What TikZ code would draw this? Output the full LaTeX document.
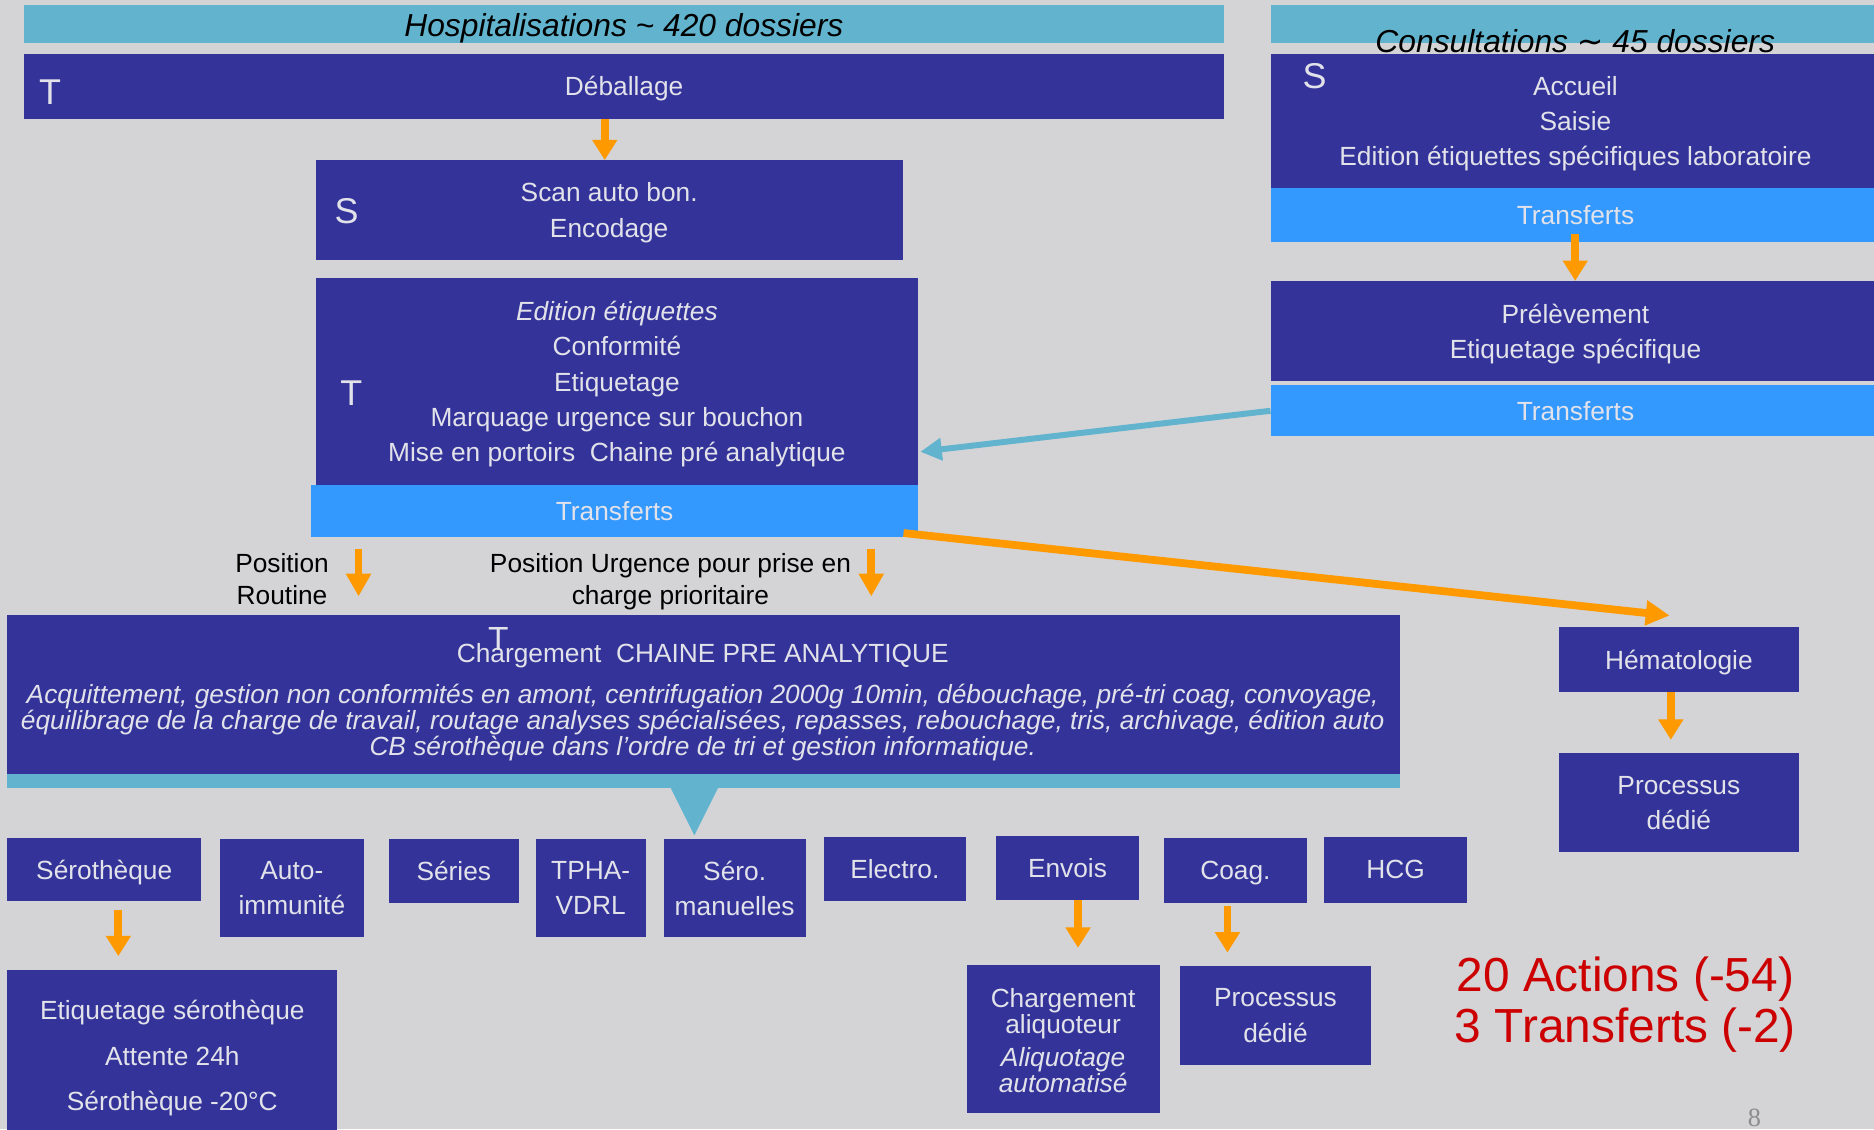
\documentclass[tikz,border=0pt]{standalone}
\usepackage{fontspec}
\setmainfont{Liberation Sans}
\newfontfamily\djv{DejaVu Sans}
\newfontfamily\serifnum{Liberation Serif}
\usetikzlibrary{arrows.meta}
\definecolor{bg}{RGB}{212,212,214}
\definecolor{dblue}{RGB}{51,51,153}
\definecolor{teal2}{RGB}{98,180,206}
\definecolor{bblue}{RGB}{51,153,255}
\definecolor{orng}{RGB}{255,153,0}
\definecolor{ltxt}{RGB}{226,226,234}
\definecolor{redt}{RGB}{204,0,0}
\definecolor{pgnum}{RGB}{140,140,140}
\newcommand\fs{\fontsize{22}{29.5}\selectfont}
\tikzset{
  blk/.style={fill=dblue,text=ltxt,inner sep=0pt,anchor=north west,align=center,font=\fs,text depth=0pt},
  trb/.style={fill=bblue,text=ltxt,inner sep=0pt,anchor=north west,align=center,font=\fs,text depth=0pt},
  tlb/.style={fill=teal2,inner sep=0pt,anchor=north west},
  ltr/.style={text=ltxt,inner sep=0pt,font=\fontsize{30}{30}\selectfont},
  txt/.style={inner sep=0pt,align=center,font=\fs,text depth=0pt},
  ttl/.style={inner sep=0pt,align=center,font=\fontsize{26.6}{30}\selectfont\itshape,text depth=0pt},
  oarr/.style={draw=orng,line width=6.5pt,-{Triangle[width=20pt,length=17pt]}},
  tarr/.style={draw=teal2,line width=5pt,-{Triangle[width=18pt,length=18pt]}},
}
\begin{document}
\begin{tikzpicture}[x=1pt,y=-1pt]
\fill[bg] (0,0) rectangle (1568,945);
\useasboundingbox (0,0) rectangle (1568,945);

% --- Hospitalisations column
\node[tlb,minimum width=1004pt,minimum height=32pt] (hbar) at (20,4) {};
\node[ttl] (htitle) at (522,21) {Hospitalisations \textasciitilde{} 420 dossiers};
\node[blk,minimum width=1004pt,minimum height=54pt] (deb) at (20,45) {Déballage};
\node[ltr] (tdeb) at (42,77) {T};
\node[blk,minimum width=491pt,minimum height=83pt] (scan) at (264,134) {Scan auto bon.\\Encodage};
\node[ltr] (sscan) at (290,177) {S};
\node[blk,minimum width=504pt,minimum height=174pt] (edit) at (264,232)
  {\textit{Edition étiquettes}\\Conformité\\Etiquetage\\Marquage urgence sur bouchon\\Mise en portoirs\ \ Chaine pré analytique};
\node[ltr] (tedit) at (294,329) {T};
\node[trb,minimum width=508pt,minimum height=43pt] (tr1) at (260,406) {Transferts};

% --- Consultations column
\node[tlb,minimum width=510pt,minimum height=32pt] (cbar) at (1063,4) {};
\node[blk,minimum width=510pt,minimum height=112pt] (cons) at (1063,45) {Accueil\\Saisie\\Edition étiquettes spécifiques laboratoire};
\node[ttl] (ctitle) at (1318,34) {Consultations {\djv ∼} 45 dossiers};
\node[ltr] (scons) at (1100,64) {S};
\node[trb,minimum width=510pt,minimum height=45pt] (tr2) at (1063,157) {Transferts};
\node[blk,minimum width=510pt,minimum height=84pt] (prel) at (1063,235) {Prélèvement\\Etiquetage spécifique};
\node[trb,minimum width=510pt,minimum height=43pt] (tr3) at (1063,322) {Transferts};

% --- position labels
\node[txt,font=\fontsize{22}{27}\selectfont] (posr) at (236,484.5) {Position\\Routine};
\node[txt,font=\fontsize{22}{27}\selectfont] (posu) at (561,484.5) {Position Urgence pour prise en\\charge prioritaire};

% --- chaine pre analytique
\node[blk,minimum width=1165pt,minimum height=133pt] (chain) at (6,514) {};
\node[tlb,minimum width=1165pt,minimum height=12pt] (cstrip) at (6,647) {};
\node[txt,text=ltxt] (chead) at (588,546) {Chargement\ \ CHAINE PRE ANALYTIQUE};
\node[ltr,font=\fontsize{28}{28}\selectfont] (tchain) at (417,535) {T};
\node[txt,text=ltxt,font=\fontsize{22}{20.5}\selectfont\itshape] (cpara) at (588,602)
  {Acquittement, gestion non conformités en amont, centrifugation 2000g 10min, débouchage, pré-tri coag, convoyage,\\
   équilibrage de la charge de travail, routage analyses spécialisées, repasses, rebouchage, tris, archivage, édition auto\\
   CB sérothèque dans l’ordre de tri et gestion informatique.};
\fill[teal2] (561,659) -- (601,659) -- (581,699) -- cycle;

% --- bottom row
\node[blk,minimum width=162pt,minimum height=53pt] (sero) at (6,701) {Sérothèque};
\node[blk,minimum width=120pt,minimum height=82pt] (autoi) at (184,702) {Auto-\\immunité};
\node[blk,minimum width=109pt,minimum height=53pt] (series) at (325,702) {Séries};
\node[blk,minimum width=92pt,minimum height=82pt] (tpha) at (448,702) {TPHA-\\VDRL};
\node[blk,minimum width=119pt,minimum height=82pt] (serom) at (555,702) {Séro.\\manuelles};
\node[blk,minimum width=119pt,minimum height=54pt] (electro) at (689,700) {Electro.};
\node[blk,minimum width=120pt,minimum height=54pt] (envois) at (833,699) {Envois};
\node[blk,minimum width=119pt,minimum height=54pt] (coag) at (974,701) {Coag.};
\node[blk,minimum width=119pt,minimum height=55pt] (hcg) at (1108,700) {HCG};

\node[blk,minimum width=276pt,minimum height=144pt,font=\fontsize{22}{38}\selectfont] (etiq) at (6,811)
  {Etiquetage sérothèque\\Attente 24h\\Sérothèque -20°C};
\node[blk,minimum width=161pt,minimum height=124pt] (aliq) at (809,807) {};
\node[txt,text=ltxt,font=\fontsize{22}{18}\selectfont] (aliq1) at (889.5,846) {Chargement\\aliquoteur};
\node[txt,text=ltxt,font=\fontsize{22}{18}\selectfont\itshape] (aliq2) at (889.5,895) {Aliquotage\\automatisé};
\node[blk,minimum width=160pt,minimum height=83pt] (proc1) at (987,808) {Processus\\dédié};

% --- hematologie
\node[blk,minimum width=201pt,minimum height=55pt] (hema) at (1304,524) {Hématologie};
\node[blk,minimum width=201pt,minimum height=83pt] (proc2) at (1304,630) {Processus\\dédié};

% --- summary
\node[txt,text=redt,font=\fontsize{40}{43}\selectfont] (summary) at (1360,836.5) {20 Actions (-54)\\3 Transferts (-2)};
\node[inner sep=0pt,text=pgnum,font=\serifnum\fontsize{22}{22}\selectfont,anchor=north] (pnum) at (1468,928) {8};

% --- connectors
\coordinate (a1) at (506,0);
\draw[oarr] (deb.south -| a1) -- (scan.north -| a1);
\coordinate (a2) at (1318,196);
\draw[oarr] (a2) -- (prel.north -| a2);
\coordinate (a3s) at (300,459); \coordinate (a3e) at (300,499);
\draw[oarr,-{Triangle[width=20pt,length=19pt]}] (a3s) -- (a3e);
\coordinate (a4s) at (729,459); \coordinate (a4e) at (729,499);
\draw[oarr,-{Triangle[width=20pt,length=19pt]}] (a4s) -- (a4e);
\coordinate (a5) at (770,378);
\draw[tarr] (tr3.west) -- (a5);
\coordinate (a6s) at (756,446); \coordinate (a6e) at (1397,515);
\draw[oarr,-{Triangle[width=20pt,length=20pt]}] (a6s) -- (a6e);
\coordinate (a7s) at (99,761); \coordinate (a7e) at (99,800);
\draw[oarr] (a7s) -- (a7e);
\coordinate (a8s) at (902,753); \coordinate (a8e) at (902,793);
\draw[oarr] (a8s) -- (a8e);
\coordinate (a9s) at (1027,758); \coordinate (a9e) at (1027,797);
\draw[oarr] (a9s) -- (a9e);
\coordinate (a10s) at (1398,579); \coordinate (a10e) at (1398,619);
\draw[oarr] (a10s) -- (a10e);
\end{tikzpicture}
\end{document}
